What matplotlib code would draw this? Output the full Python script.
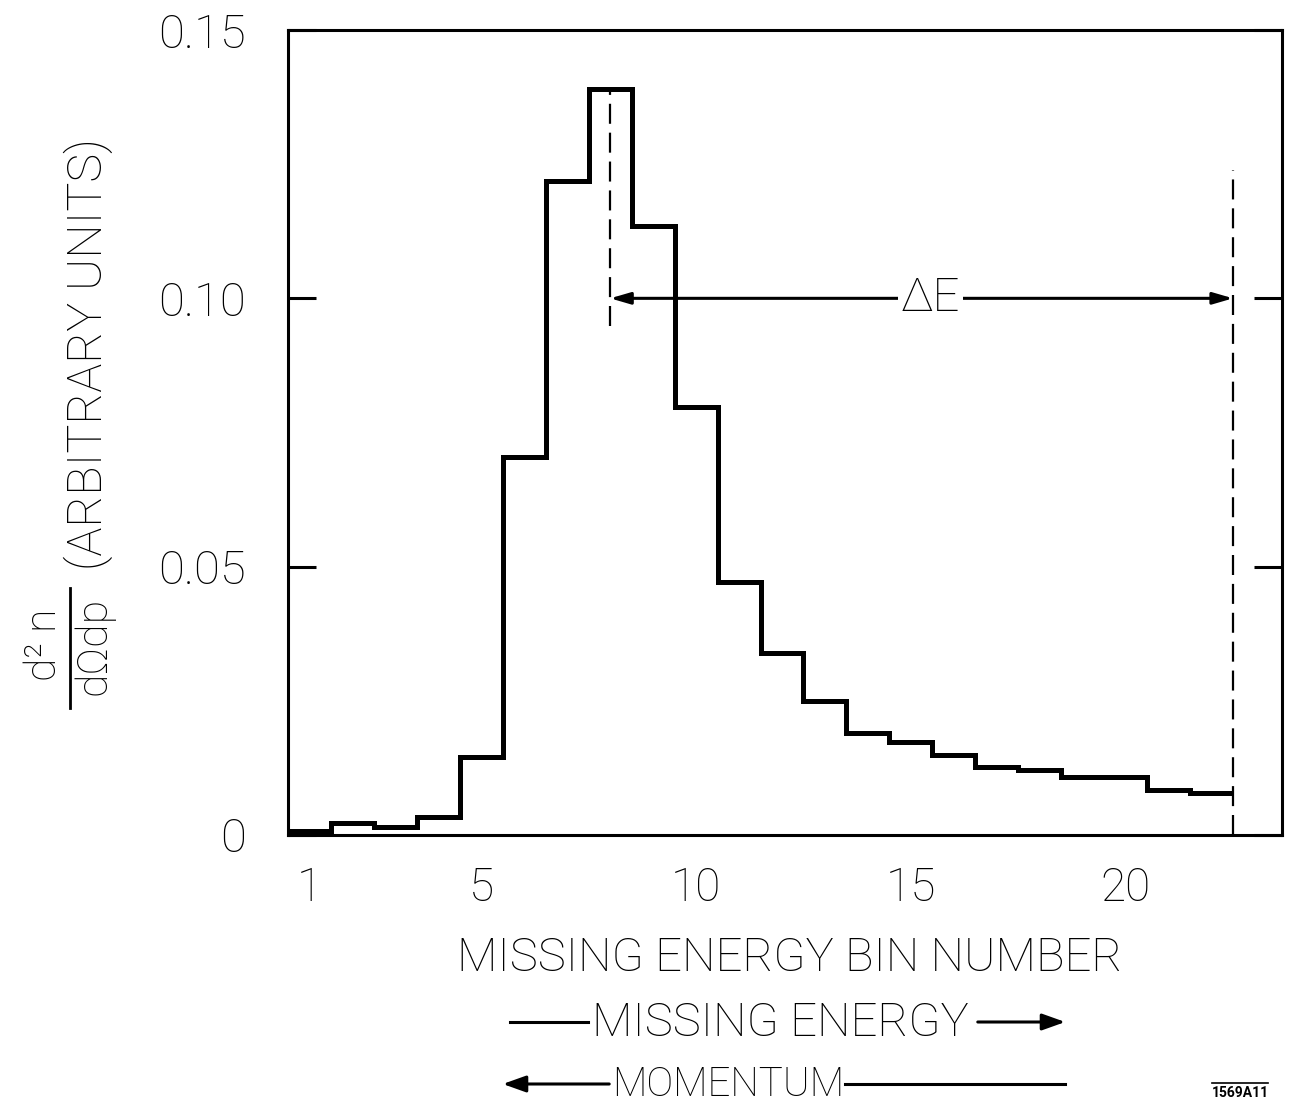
import matplotlib
matplotlib.use("Agg")
import matplotlib.pyplot as plt
import numpy as np

# ---- data ----
bin_numbers = list(range(1, 23))
values = [0.0008, 0.0022, 0.0015, 0.0034, 0.0146, 0.0705, 0.1218, 0.1390,
          0.1134, 0.0797, 0.0472, 0.0340, 0.0250, 0.0190, 0.0174, 0.0149,
          0.0127, 0.0121, 0.0108, 0.0108, 0.0084, 0.0078]
x_ticks = [1, 5, 10, 15, 20]
x_tick_labels = ["1", "5", "10", "15", "20"]
y_ticks = [0, 0.05, 0.10, 0.15]
y_tick_labels = ["0", "0.05", "0.10", "0.15"]
de_left = 8.0
de_right = 22.5
de_level = 0.10

FONT = "Roboto"
plt.rcParams['font.family'] = [FONT, 'DejaVu Sans']

W, H = 1289, 1115
fig = plt.figure(figsize=(W / 100, H / 100), dpi=100)
ax = fig.add_axes([288 / W, 1 - 835 / H, (1282 - 288) / W, (835 - 30) / H])

edges = np.arange(0.5, len(values) + 1, 1.0)
ax.stairs(values, edges, color="black", linewidth=3.6, baseline=None)

ax.set_xlim(0.5, 23.64)
ax.set_ylim(0, 0.15)

for s in ax.spines.values():
    s.set_linewidth(2.2)

ax.set_xticks(x_ticks)
ax.set_xticklabels(x_tick_labels, fontsize=33, fontweight="light")
ax.tick_params(axis="x", length=0, pad=22)
ax.set_yticks(y_ticks)
ax.set_yticklabels(y_tick_labels, fontsize=34, fontweight="light")
ax.tick_params(axis="y", direction="in", length=20, width=2.2, right=True,
               pad=30)

# dashed markers
ax.plot([de_left, de_left], [0.0948, 0.1386], color="black", lw=1.6,
        dashes=(9, 4))
ax.plot([de_right, de_right], [0.0, 0.124], color="black", lw=1.6,
        dashes=(9, 4))

# Delta E arrow
ax.annotate("", xy=(de_left, de_level), xytext=(15.0, de_level),
            arrowprops=dict(arrowstyle="-|>,head_length=1.2,head_width=0.35",
                            color="black", lw=2.2, shrinkA=0, shrinkB=0))
ax.annotate("", xy=(de_right, de_level), xytext=(15.9, de_level),
            arrowprops=dict(arrowstyle="-|>,head_length=1.2,head_width=0.35",
                            color="black", lw=2.2, shrinkA=0, shrinkB=0))
ax.text(15.45, de_level, "ΔE", fontsize=34, fontweight="light",
        ha="center", va="center",
        bbox=dict(facecolor="white", edgecolor="none", pad=2))

# y label (rotated fraction)
fig.text(44 / W, 1 - 645 / H, "d² n", rotation=90, fontsize=31,
         fontweight="light", ha="center", va="center")
fig.add_artist(plt.Line2D([70 / W, 70 / W], [1 - 708 / H, 1 - 588 / H],
                          color="black", lw=2.0))
fig.text(94 / W, 1 - 646 / H, "dΩdp", rotation=90, fontsize=31,
         fontweight="light", ha="center", va="center")
fig.text(88 / W, 1 - 354 / H, "(ARBITRARY UNITS)", rotation=90, fontsize=35,
         fontweight="light", ha="center", va="center")

# x labels
fig.text(790 / W, 1 - 958 / H, "MISSING ENERGY BIN NUMBER", fontsize=34,
         fontweight="light", ha="center", va="center")
fig.text(780 / W, 1 - 1023 / H, "MISSING ENERGY", fontsize=34,
         fontweight="light", ha="center", va="center")
fig.add_artist(plt.Line2D([510 / W, 588 / W], [1 - 1022 / H] * 2,
                          color="black", lw=2.2))
fig.add_artist(matplotlib.patches.FancyArrowPatch(
    (975 / W, 1 - 1022 / H), (1068 / W, 1 - 1022 / H),
    transform=fig.transFigure, arrowstyle="-|>,head_length=14,head_width=5",
    color="black", lw=2.2, mutation_scale=1))
fig.text(728 / W, 1 - 1085 / H, "MOMENTUM", fontsize=29,
         fontweight="light", ha="center", va="center")
fig.add_artist(matplotlib.patches.FancyArrowPatch(
    (612 / W, 1 - 1084 / H), (500 / W, 1 - 1084 / H),
    transform=fig.transFigure, arrowstyle="-|>,head_length=14,head_width=5",
    color="black", lw=2.2, mutation_scale=1))
fig.add_artist(plt.Line2D([845 / W, 1065 / W], [1 - 1084 / H] * 2,
                          color="black", lw=2.2))

fig.text(1240 / W, 1 - 1093 / H, "1569A11", fontsize=10, fontweight="bold",
         ha="center", va="center")
fig.add_artist(plt.Line2D([1212 / W, 1268 / W], [1 - 1083 / H] * 2,
                          color="black", lw=1.2))

fig.savefig("out.png", dpi=100)
